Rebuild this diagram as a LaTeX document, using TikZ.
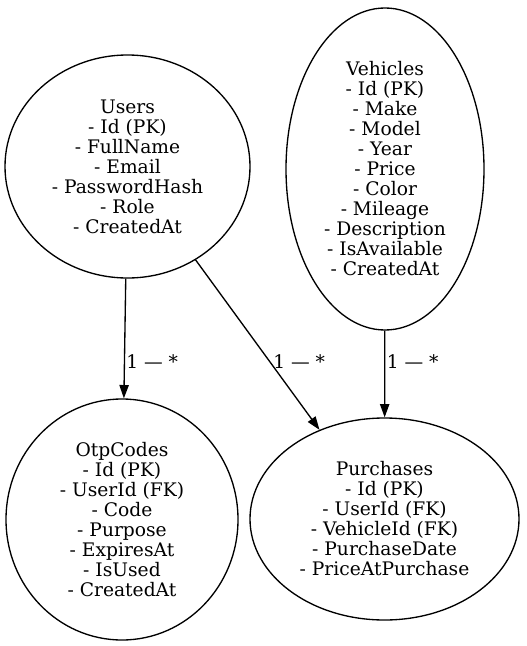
\documentclass[tikz,border=0pt]{standalone}
\usepackage{fontspec}
\setmainfont{DejaVu Serif}
\usetikzlibrary{shapes.geometric,arrows.meta,positioning}

\begin{document}
\begin{tikzpicture}[x=0.75pt,y=-0.75pt,
                tbl/.style n args={2}{ellipse,draw,line width=1pt,
                    inner sep=0pt,
                    minimum width=#1*0.75pt,
                    minimum height=#2*0.75pt,
                    align=center,
                    font=\fontsize{14}{15}\selectfont},
                rel/.style={-{Triangle[length=10pt,width=7pt]},line width=1pt},
                card/.style={anchor=west,inner sep=0pt,
                    font=\fontsize{14}{15}\selectfont}]
                \useasboundingbox (0,0) rectangle (526,646);
                \node[tbl={245}{223}](users) at (127.5,166.5)
                    {Users\\- Id (PK)\\- FullName\\- Email\\- PasswordHash\\- Role\\- CreatedAt};
                \node[tbl={198}{322}](vehicles) at (385,169)
                    {Vehicles\\- Id (PK)\\- Make\\- Model\\- Year\\- Price\\- Color\\- Mileage\\- Description\\- IsAvailable\\- CreatedAt};
                \node[tbl={232}{241}](otp) at (122,519.5)
                    {OtpCodes\\- Id (PK)\\- UserId (FK)\\- Code\\- Purpose\\- ExpiresAt\\- IsUsed\\- CreatedAt};
                \node[tbl={269}{202}](purch) at (384.5,519)
                    {Purchases\\- Id (PK)\\- UserId (FK)\\- VehicleId (FK)\\- PurchaseDate\\- PriceAtPurchase};
                \draw[rel] (users) -- (otp);
                \draw[rel] (users) -- (purch);
                \draw[rel] (vehicles) -- (purch);
                \node[card](c1) at (126,362) {1 — *};
                \node[card](c2) at (273,362) {1 — *};
                \node[card](c3) at (386.5,362) {1 — *};
            \end{tikzpicture}
\end{document}
